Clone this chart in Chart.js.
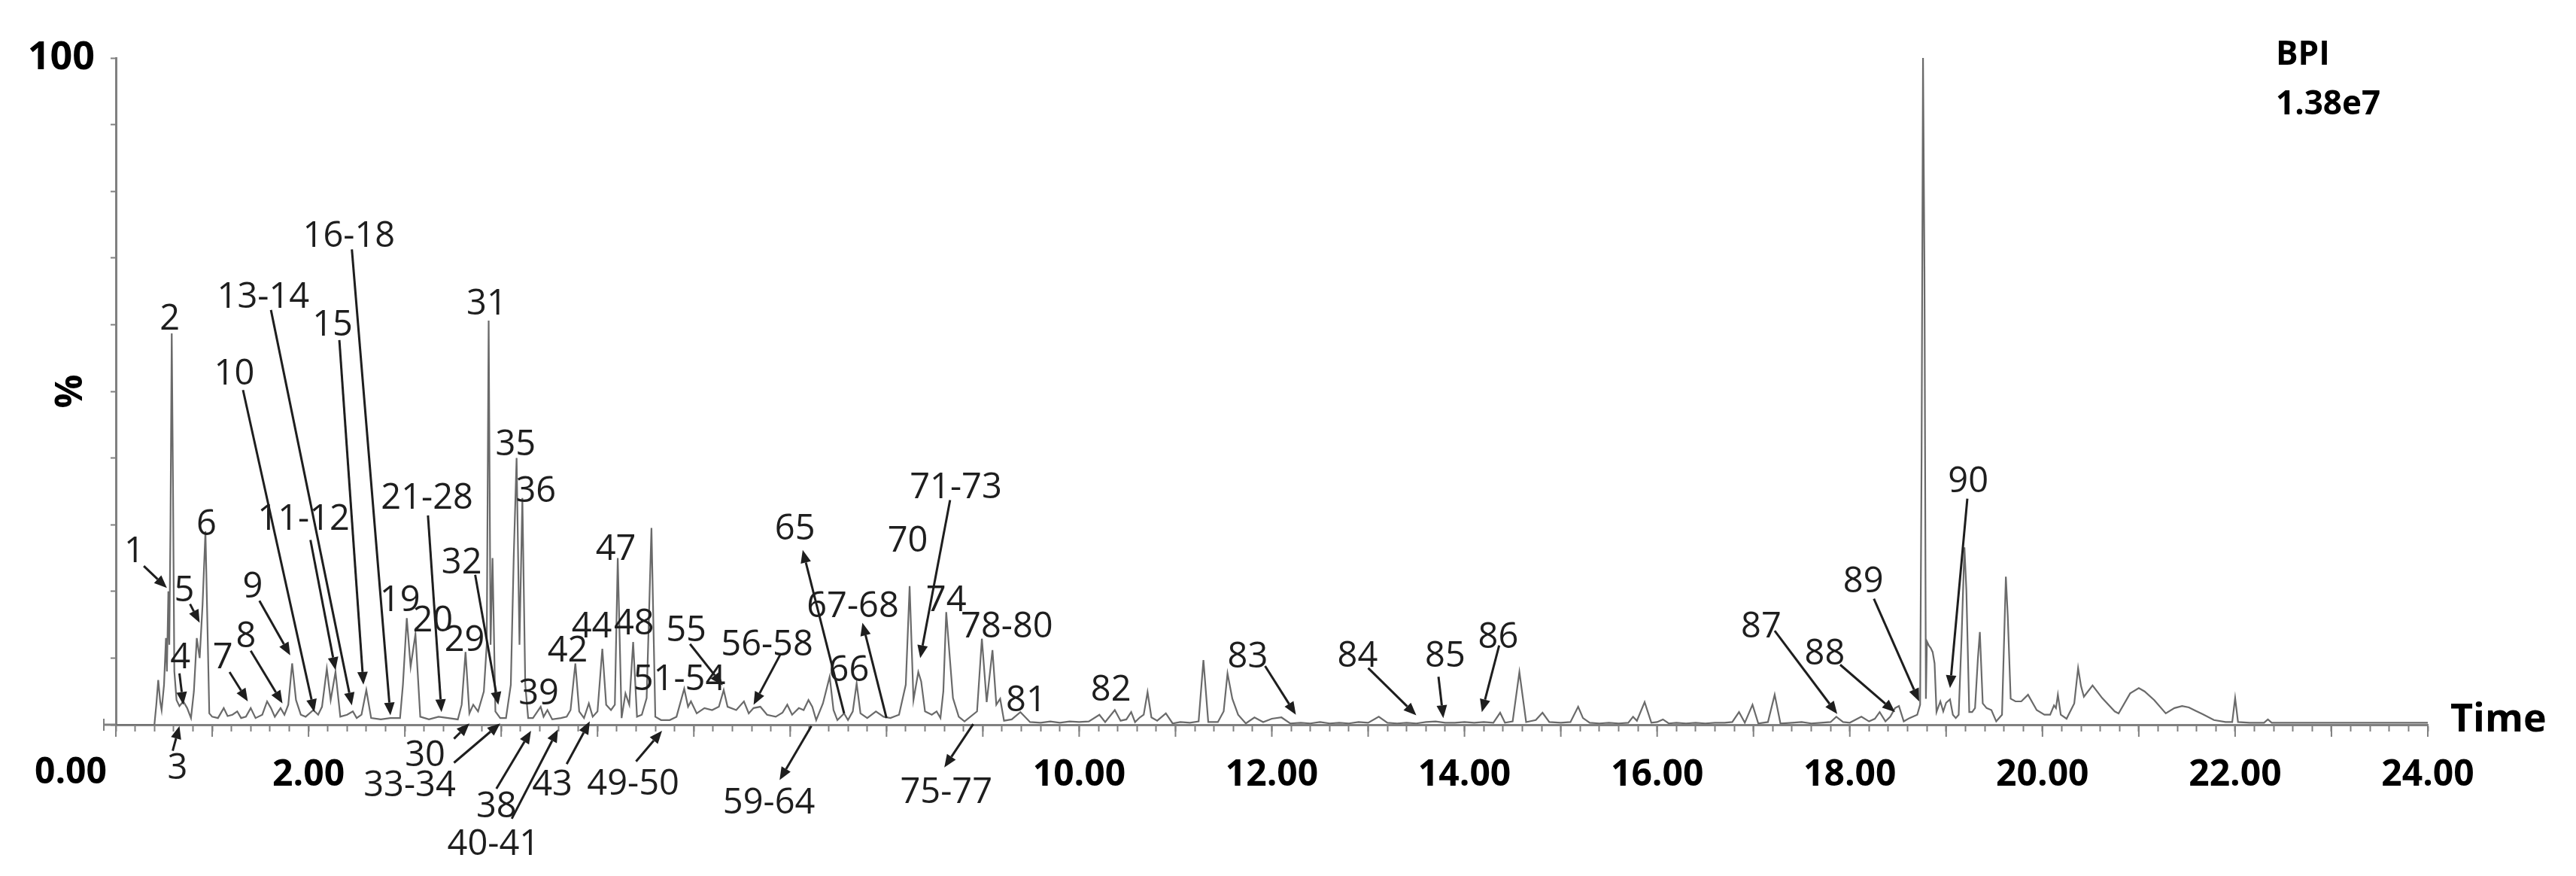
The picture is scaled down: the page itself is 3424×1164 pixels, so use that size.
<!DOCTYPE html>
<html><head><meta charset="utf-8">
<script src="https://cdn.jsdelivr.net/npm/chart.js@4.4.0/dist/chart.umd.min.js"></script>
<style>html,body{margin:0;padding:0;background:#fff;}canvas{display:block;}</style>
</head><body>
<canvas id="c" width="3424" height="1164"></canvas>
<script>
// ---- Data (retention time in min, relative intensity in %) ----
const retentionTime = [
0,0.40,0.42,0.44,0.46,0.475,0.50,0.52,0.53,0.545,0.555,0.567,0.58,0.593,0.607,0.63,0.66,0.70,0.74,0.78,
0.81,0.84,0.87,0.90,0.93,0.955,0.97,1.00,1.06,1.12,1.16,1.21,1.26,1.30,1.35,1.40,1.45,1.52,1.57,1.61,
1.65,1.71,1.75,1.79,1.83,1.87,1.92,1.97,2.05,2.10,2.14,2.19,2.23,2.28,2.33,2.40,2.46,2.50,2.55,2.60,
2.65,2.75,2.85,2.95,2.98,3.02,3.06,3.11,3.16,3.25,3.35,3.45,3.55,3.59,3.63,3.67,3.71,3.76,3.82,3.85,
3.87,3.89,3.91,3.94,3.99,4.05,4.10,4.13,4.16,4.19,4.22,4.25,4.28,4.33,4.41,4.44,4.48,4.53,4.62,4.68,
4.72,4.77,4.81,4.86,4.91,4.95,5.00,5.05,5.09,5.14,5.18,5.21,5.25,5.29,5.33,5.37,5.41,5.46,5.51,5.56,
5.60,5.66,5.75,5.82,5.90,5.94,5.97,6.03,6.11,6.19,6.26,6.31,6.35,6.44,6.52,6.57,6.62,6.69,6.76,6.85,
6.92,6.97,7.02,7.09,7.14,7.19,7.23,7.27,7.34,7.41,7.45,7.49,7.56,7.60,7.65,7.69,7.73,7.80,7.89,7.97,
8.04,8.13,8.20,8.24,8.28,8.33,8.36,8.40,8.47,8.52,8.56,8.59,8.62,8.69,8.75,8.81,8.94,8.99,9.04,9.10,
9.14,9.18,9.22,9.30,9.39,9.49,9.60,9.70,9.80,9.90,10.00,10.10,10.21,10.27,10.37,10.43,10.49,10.54,10.58,10.63,
10.67,10.71,10.75,10.81,10.90,10.97,11.05,11.15,11.24,11.29,11.34,11.44,11.50,11.54,11.59,11.65,11.73,11.82,11.91,12.00,
12.10,12.19,12.30,12.40,12.50,12.60,12.70,12.80,12.90,13.00,13.11,13.20,13.30,13.40,13.50,13.60,13.70,13.80,13.90,14.00,
14.10,14.20,14.30,14.37,14.42,14.50,14.57,14.64,14.74,14.81,14.88,15.00,15.10,15.18,15.23,15.30,15.40,15.50,15.60,15.70,
15.75,15.79,15.87,15.94,16.00,16.06,16.12,16.20,16.30,16.40,16.50,16.60,16.70,16.78,16.85,16.91,16.99,17.05,17.15,17.22,
17.28,17.40,17.50,17.60,17.70,17.80,17.86,17.93,18.00,18.12,18.20,18.26,18.31,18.37,18.42,18.47,18.51,18.56,18.62,18.70,
18.73,18.745,18.76,18.775,18.79,18.80,18.82,18.84,18.86,18.88,18.90,18.94,18.97,19.00,19.04,19.07,19.10,19.13,19.16,19.19,
19.21,19.24,19.27,19.30,19.33,19.35,19.38,19.42,19.47,19.52,19.58,19.62,19.64,19.67,19.72,19.78,19.85,19.94,20.02,20.08,
20.12,20.14,20.16,20.19,20.25,20.33,20.37,20.40,20.43,20.52,20.62,20.75,20.79,20.91,21.00,21.06,21.16,21.28,21.37,21.45,
21.52,21.59,21.66,21.78,21.90,21.97,22.00,22.03,22.15,22.30,22.34,22.38,23.00,24.00
];
const intensity = [
0,0,3.0,6.7,3.5,2.2,6.0,13.0,8.0,20.0,12.0,30.0,58.7,36.0,8.0,3.7,2.8,3.5,2.5,1.0,
5.0,13.0,10.0,18.0,29.0,12.0,1.7,1.2,1.0,2.5,1.3,1.5,2.0,1.0,1.2,2.5,1.0,1.5,3.5,2.5,
1.2,2.5,1.5,3.0,9.2,3.7,1.5,1.2,2.2,1.5,2.7,8.4,3.7,7.9,1.2,1.5,2.0,1.0,1.5,5.2,
1.0,0.8,1.0,1.0,6.0,16.0,8.7,13.6,1.2,0.8,1.2,1.0,0.8,3.0,10.9,1.7,3.0,2.0,5.0,12.0,
60.6,12.0,25.0,2.0,1.0,1.0,6.0,25.0,40.0,12.0,34.0,6.0,1.0,1.0,2.7,1.2,2.2,0.8,1.0,1.2,
2.2,9.2,2.0,1.0,3.2,1.2,2.0,11.4,3.0,2.2,3.0,25.0,1.0,4.7,3.0,12.4,1.2,1.5,4.0,29.5,
1.2,0.7,0.7,1.2,5.4,2.7,3.5,1.7,2.5,2.2,2.7,5.2,2.7,2.2,3.5,1.7,2.5,2.7,1.5,1.2,
1.8,3.0,1.5,2.5,2.2,3.7,2.7,0.7,3.2,7.2,2.2,0.7,1.7,0.7,2.0,6.2,1.7,1.0,2.0,1.2,
1.0,1.5,6.0,20.8,3.7,7.9,6.5,2.0,1.5,2.0,1.0,5.0,16.9,4.0,1.2,0.5,2.0,12.9,3.4,11.2,
3.0,3.9,0.6,0.8,1.9,0.4,0.3,0.5,0.3,0.5,0.4,0.5,1.5,0.4,2.2,0.6,0.8,1.9,0.4,1.1,
1.5,4.9,1.1,0.6,1.7,0.2,0.4,0.3,0.5,9.7,0.4,0.4,2.0,7.7,3.9,1.5,0.2,1.1,0.4,0.9,
1.1,0.2,0.3,0.2,0.4,0.2,0.3,0.2,0.4,0.3,1.2,0.3,0.2,0.3,0.2,0.4,0.5,0.3,0.3,0.4,
0.3,0.4,0.3,1.8,0.3,0.5,7.9,0.4,0.7,1.8,0.4,0.3,0.4,2.7,1.0,0.3,0.2,0.3,0.2,0.3,
1.2,0.6,3.4,0.3,0.4,0.8,0.2,0.3,0.2,0.3,0.2,0.3,0.3,0.4,1.9,0.3,3.0,0.2,0.4,4.5,
0.2,0.3,0.4,0.2,0.3,0.4,1.2,0.4,0.3,1.2,0.5,0.9,1.9,0.5,1.2,2.5,2.8,0.5,1.0,1.5,
3.0,40.0,100,68.0,3.9,12.5,11.9,11.5,10.9,9.2,1.9,3.5,2.0,3.3,3.8,1.5,1.0,1.5,13.0,26.6,
20.2,1.9,1.9,2.5,10.0,13.9,3.2,2.5,2.2,0.5,1.5,22.2,16.2,3.9,3.5,3.5,4.5,2.2,1.5,1.5,
2.9,2.5,4.5,1.5,0.9,3.2,8.5,5.8,4.2,5.9,4.0,2.0,1.7,4.7,5.5,5.0,3.7,1.7,2.5,2.8,
2.6,2.1,1.6,0.7,0.4,0.4,4.0,0.4,0.3,0.3,0.8,0.3,0.3,0.3
];
const xMin = 0, xMax = 24;
const xMinorStep = 0.2;
const xTickLabelValues = [0, 2, 10, 12, 14, 16, 18, 20, 22, 24];
const yTickStep = 10;
const axisTitleX = 'Time';
const axisTitleY = '%';
const traceName = 'BPI';
const traceScale = '1.38e7';

// peak labels: [text, time, %] ; arrows: [time1, %1, time2, %2] (head at second point)
const peakLabels = [
['1',0.19,26.3],['2',0.56,61.2],['3',0.64,-6.2],['4',0.67,10.4],['5',0.71,20.5],['6',0.94,30.4],
['7',1.11,10.4],['8',1.35,13.6],['9',1.42,21.0],['10',1.23,53.0],['11-12',1.95,31.2],['13-14',1.53,64.5],
['15',2.25,60.3],['16-18',2.42,73.6],['19',2.95,19.0],['20',3.29,16.0],['21-28',3.23,34.4],['29',3.62,13.0],
['30',3.21,-4.3],['31',3.85,63.5],['32',3.59,24.6],['33-34',3.05,-8.8],['35',4.15,42.4],['36',4.36,35.4],
['38',3.95,-11.9],['39',4.39,5.0],['40-41',3.92,-17.6],['42',4.69,11.5],['43',4.53,-8.6],['44',4.94,15.1],
['47',5.19,26.7],['48',5.38,15.5],['49-50',5.37,-8.5],['51-54',5.85,7.1],['55',5.92,14.5],['56-58',6.76,12.3],
['59-64',6.78,-11.4],['65',7.05,29.7],['66',7.61,8.5],['67-68',7.65,18.1],['70',8.22,27.9],['71-73',8.72,35.9],
['74',8.62,19.0],['75-77',8.62,-9.8],['78-80',9.25,15.0],['81',9.45,4.0],['82',10.33,5.6],['83',11.75,10.5],
['84',12.89,10.7],['85',13.80,10.7],['86',14.35,13.5],['87',17.08,15.1],['88',17.74,11.0],['89',18.14,21.8],['90',19.23,36.8]
];
const peakArrows = [
[0.29,23.8,0.53,20.5],[0.59,-3.9,0.66,-0.2],[0.66,7.7,0.70,3.0],[0.77,18.1,0.87,15.3],[1.18,7.9,1.37,3.5],
[1.40,11.1,1.73,3.2],[1.49,18.6,1.81,10.4],[1.32,50.2,2.06,1.9],[2.02,27.7,2.28,8.2],[1.61,62.2,2.45,2.9],
[2.32,57.7,2.57,6.0],[2.45,71.3,2.85,1.4],[3.24,31.4,3.38,1.9],[3.51,-2.1,3.67,0.2],[3.73,22.5,3.97,3.0],
[3.51,-5.7,3.99,0.2],[3.95,-9.6,4.31,-0.9],[4.11,-14.1,4.59,-0.7],[4.68,-5.9,4.92,0.5],[5.40,-5.5,5.67,-0.9],
[5.96,12.1,6.30,5.9],[6.9,10.6,6.62,3.0],[7.22,-0.2,6.89,-8.3],[7.56,1.7,7.13,26.2],[8.0,1.0,7.75,15.3],
[8.66,33.7,8.35,10.0],[8.90,0.1,8.60,-6.4],[11.93,8.8,12.25,1.5],[13.0,8.5,13.5,1.4],[13.73,7.2,13.78,1.0],
[14.36,11.9,14.18,1.9],[17.22,14.1,17.87,1.6],[17.90,9.0,18.47,1.9],[18.25,18.9,18.72,3.5],[19.22,33.9,19.04,5.5]
];

const FONT = "'Open Sans', 'Noto Sans', sans-serif";
const AXIS_COLOR = '#808080';

const annotPlugin = {
  id: 'annot',
  afterDraw(chart) {
    const ctx = chart.ctx, xs = chart.scales.x, ys = chart.scales.y;
    const base = ys.getPixelForValue(0);
    ctx.save();
    // major ticks (every minute)
    ctx.strokeStyle = AXIS_COLOR; ctx.lineWidth = 2;
    for (let m = xMin; m <= xMax; m++) {
      const px = xs.getPixelForValue(m);
      ctx.beginPath(); ctx.moveTo(px, base); ctx.lineTo(px, base + 16); ctx.stroke();
    }
    // small extension of time axis left of y axis
    const x0 = xs.getPixelForValue(0);
    ctx.lineWidth = 3;
    ctx.beginPath(); ctx.moveTo(x0 - 16, base); ctx.lineTo(x0, base); ctx.stroke();
    ctx.lineWidth = 2;
    ctx.beginPath(); ctx.moveTo(x0 - 16, base - 8); ctx.lineTo(x0 - 16, base + 8); ctx.stroke();
    // zero label shifted left of the axis
    ctx.fillStyle = '#000';
    ctx.font = 'bold 48px ' + FONT;
    ctx.textAlign = 'center'; ctx.textBaseline = 'middle';
    ctx.fillText(xTickLabelValues[0].toFixed(2), x0 - 60, base + 64);
    // axis titles
    ctx.font = 'bold 52px ' + FONT;
    ctx.textAlign = 'left';
    ctx.fillText(axisTitleX, xs.right + 30, base - 6);
    ctx.save();
    ctx.translate(95, (ys.top + ys.bottom) / 2);
    ctx.rotate(-Math.PI / 2);
    ctx.textAlign = 'center';
    ctx.font = 'bold 50px ' + FONT;
    ctx.fillText(axisTitleY, 0, 0);
    ctx.restore();
    ctx.font = 'bold 44px ' + FONT;
    ctx.textAlign = 'left';
    ctx.fillText(traceName, 3025, 73);
    ctx.fillText(traceScale, 3025, 139);
    // arrows
    ctx.strokeStyle = '#1e1e1e'; ctx.fillStyle = '#1e1e1e'; ctx.lineWidth = 3;
    peakArrows.forEach(a => {
      const x1 = xs.getPixelForValue(a[0]), y1 = ys.getPixelForValue(a[1]);
      const x2 = xs.getPixelForValue(a[2]), y2 = ys.getPixelForValue(a[3]);
      const ang = Math.atan2(y2 - y1, x2 - x1);
      const hl = 17, hw = 7;
      const bx = x2 - hl * Math.cos(ang), by = y2 - hl * Math.sin(ang);
      ctx.beginPath(); ctx.moveTo(x1, y1); ctx.lineTo(bx, by); ctx.stroke();
      ctx.beginPath();
      ctx.moveTo(x2, y2);
      ctx.lineTo(bx + hw * Math.sin(ang), by - hw * Math.cos(ang));
      ctx.lineTo(bx - hw * Math.sin(ang), by + hw * Math.cos(ang));
      ctx.closePath(); ctx.fill();
    });
    // labels
    ctx.font = '47px ' + FONT;
    ctx.textAlign = 'center'; ctx.textBaseline = 'middle';
    peakLabels.forEach(l => {
      ctx.fillText(l[0], xs.getPixelForValue(l[1]), ys.getPixelForValue(l[2]) + 4);
    });
    ctx.restore();
  }
};

const points = retentionTime.map((t, i) => ({ x: t, y: intensity[i] }));

new Chart(document.getElementById('c'), {
  type: 'line',
  data: { datasets: [{ label: traceName, data: points, borderColor: '#6a6a6a', borderWidth: 2.2,
    pointRadius: 0, tension: 0, fill: false }] },
  options: {
    responsive: false, animation: false, devicePixelRatio: 1,
    layout: { padding: { top: 77, right: 197, bottom: 0, left: 0 } },
    plugins: { legend: { display: false }, tooltip: { enabled: false } },
    scales: {
      x: {
        type: 'linear', min: xMin, max: xMax,
        border: { display: true, color: AXIS_COLOR, width: 3 },
        grid: { display: true, drawOnChartArea: false, drawTicks: true, tickLength: 9, color: AXIS_COLOR, tickWidth: 2 },
        ticks: { stepSize: xMinorStep, autoSkip: false, maxRotation: 0, minRotation: 0, padding: 30, color: '#000',
          font: { family: FONT, weight: 'bold', size: 48 },
          callback: (v) => { const r = Math.round(v); return (Math.abs(v - r) < 1e-6 && r !== 0 && xTickLabelValues.includes(r)) ? r.toFixed(2) : ''; } },
        afterFit: (s) => { s.height = 201; }
      },
      y: {
        type: 'linear', min: 0, max: 100,
        border: { display: true, color: AXIS_COLOR, width: 3 },
        grid: { display: true, drawOnChartArea: false, drawTicks: true, tickLength: 7, color: AXIS_COLOR, tickWidth: 2 },
        ticks: { stepSize: yTickStep, padding: 21, color: '#000', font: { family: FONT, weight: 'bold', size: 52 },
          callback: (v) => v === 100 ? '100' : '' },
        afterFit: (s) => { s.width = 154; }
      }
    }
  },
  plugins: [annotPlugin]
});
</script>
</body></html>
